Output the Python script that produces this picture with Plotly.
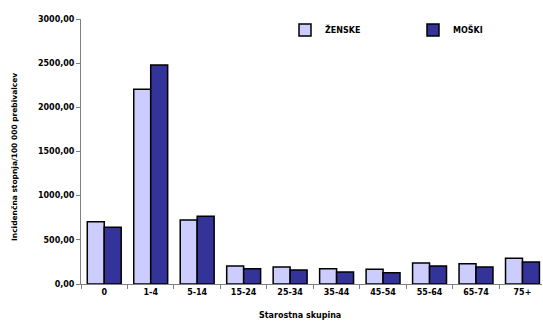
import plotly.graph_objects as go

# Age groups and incidence rates per 100 000 inhabitants
age_groups = ["0", "1-4", "5-14", "15-24", "25-34", "35-44", "45-54", "55-64", "65-74", "75+"]
zenske = [705, 2204, 724, 204, 192, 173, 166, 238, 230, 291]
moski = [642, 2479, 766, 173, 158, 136, 128, 204, 192, 249]
y_ticks = [0, 500, 1000, 1500, 2000, 2500, 3000]

W, H = 543, 321
L, R, T, B = 81, 1, 19, 37
font_family = "DejaVu Sans"

pw = W - L - R
ph = H - T - B

fig = go.Figure()
fig.add_trace(go.Bar(
    name="ŽENSKE", x=age_groups, y=zenske, legend="legend",
    marker=dict(color="#CCCCFF", line=dict(color="#000000", width=1.5)),
))
fig.add_trace(go.Bar(
    name="MOŠKI", x=age_groups, y=moski, legend="legend2",
    marker=dict(color="#333399", line=dict(color="#000000", width=1.5)),
))


def legend_box(px):
    return dict(
        orientation="h", x=(px - L) / pw, y=(H - B - 30) / ph,
        xanchor="left", yanchor="middle", itemwidth=30,
        font=dict(family=font_family, size=8, weight="bold"),
        bgcolor="rgba(0,0,0,0)",
    )


fig.update_layout(
    width=W, height=H,
    margin=dict(l=L, r=R, t=T, b=B, pad=0),
    paper_bgcolor="white", plot_bgcolor="white",
    barmode="group", bargap=0.27, bargroupgap=0,
    separators=",.",
    font=dict(family=font_family, size=8, color="#000000"),
    showlegend=True,
    legend=legend_box(285),
    legend2=legend_box(413),
    xaxis=dict(
        range=[-0.5, 9.42], showline=True, linecolor="#808080", linewidth=1,
        ticks="outside", ticklen=4, tickcolor="#808080", tickson="boundaries",
        tickfont=dict(family=font_family, size=8, weight="bold"),
        showgrid=False, zeroline=False, fixedrange=True,
    ),
    yaxis=dict(
        range=[0, 3000], tickvals=y_ticks, tickformat=".2f",
        showline=True, linecolor="#808080", linewidth=1,
        ticks="outside", ticklen=4, tickcolor="#808080",
        tickfont=dict(family=font_family, size=8, weight="bold"),
        showgrid=False, zeroline=False, fixedrange=True,
    ),
    annotations=[
        dict(text="Incidenčna stopnja/100 000 prebivalcev", textangle=-90,
             xref="paper", yref="paper", x=(14 - L) / pw, y=(H - B - 157) / ph,
             xanchor="center", yanchor="middle", showarrow=False,
             font=dict(family=font_family, size=7.5, weight="bold")),
        dict(text="Starostna skupina",
             xref="paper", yref="paper", x=(300 - L) / pw, y=(H - B - 315) / ph,
             xanchor="center", yanchor="middle", showarrow=False,
             font=dict(family=font_family, size=8, weight="bold")),
    ],
)

fig.write_html("out.html", config=dict(displayModeBar=False))
